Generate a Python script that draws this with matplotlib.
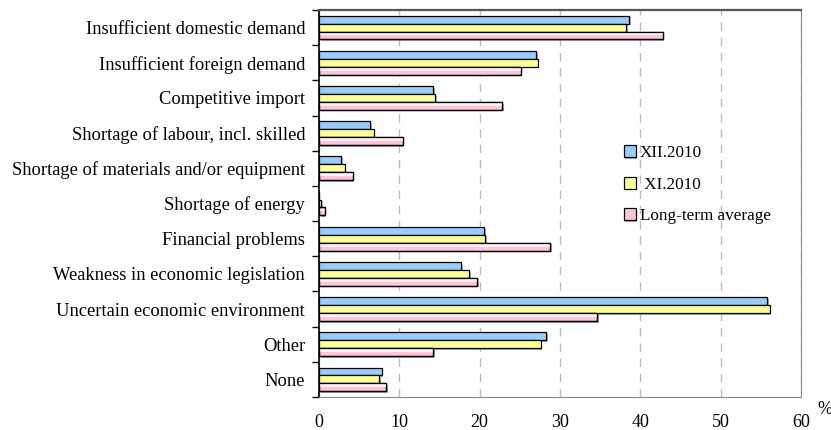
import matplotlib
matplotlib.use("Agg")
import matplotlib.pyplot as plt
import matplotlib.patheffects as pe
import numpy as np

categories = [
    "Insufficient domestic demand",
    "Insufficient foreign demand",
    "Competitive import",
    "Shortage of labour, incl. skilled",
    "Shortage of materials and/or equipment",
    "Shortage of energy",
    "Financial problems",
    "Weakness in economic legislation",
    "Uncertain economic environment",
    "Other",
    "None",
]
xii_2010 = [38.6, 27.0, 14.2, 6.4, 2.8, 0.0, 20.6, 17.7, 55.8, 28.3, 7.8]
xi_2010 = [38.2, 27.2, 14.5, 6.8, 3.2, 0.3, 20.7, 18.7, 56.1, 27.6, 7.5]
long_term = [42.8, 25.1, 22.8, 10.4, 4.2, 0.7, 28.8, 19.7, 34.6, 14.2, 8.4]
series_labels = ["XII.2010", " XI.2010", "Long-term average"]
x_ticks = [0, 10, 20, 30, 40, 50, 60]

plt.rcParams["font.family"] = ["Liberation Serif", "DejaVu Serif"]

fig = plt.figure(figsize=(8.31, 4.30), dpi=100)
ax = fig.add_axes([319 / 831, 33 / 430, 482 / 831, 387 / 430])

y = np.arange(len(categories))
h = 0.224
shadow = [pe.SimplePatchShadow(offset=(1.2, -1.2), shadow_rgbFace="#777777", alpha=0.6), pe.Normal()]

b1 = ax.barh(y - h, xii_2010, height=h, color="#99ccff", edgecolor="black", linewidth=0.9,
             label=series_labels[0], zorder=3)
b2 = ax.barh(y, xi_2010, height=h, color="#ffff99", edgecolor="black", linewidth=0.9,
             label=series_labels[1], zorder=3)
b3 = ax.barh(y + h, long_term, height=h, color="#ffc4da", edgecolor="black", linewidth=0.9,
             label=series_labels[2], zorder=3)
for bars in (b1, b2, b3):
    for p in bars:
        if p.get_width() > 0:
            p.set_path_effects(shadow)
# light upper band on the long-term bars
ax.barh(y + h - h * 0.18, long_term, height=h * 0.35, color="#fff0f5", linewidth=0, zorder=4)
for v, yy in zip(long_term, y + h):
    ax.barh(yy, v, height=h, fill=False, edgecolor="black", linewidth=0.9, zorder=5)

ax.set_xlim(0, 60)
ax.set_ylim(len(categories) - 0.5, -0.5)
ax.set_xticks(x_ticks)
ax.set_xticklabels([str(t) for t in x_ticks], fontsize=13)
ax.set_yticks(y)
ax.set_yticklabels(categories, fontsize=13.3)
ax.set_yticks(np.arange(-0.5, len(categories), 1.0), minor=True)
ax.tick_params(axis="y", which="major", length=0, pad=10)
ax.tick_params(axis="y", which="minor", length=5, width=1, color="black", direction="out")
ax.tick_params(axis="x", length=0, pad=12)

ax.xaxis.grid(True, linestyle=(0, (6, 5)), color="#bbbbbb", linewidth=1, zorder=0)
ax.set_axisbelow(True)

ax.spines["left"].set_color("black")
ax.spines["left"].set_linewidth(1.2)
ax.spines["top"].set_color("#555555")
ax.spines["top"].set_linewidth(1.6)
ax.spines["right"].set_color("#888888")
ax.spines["bottom"].set_color("#888888")

leg = ax.legend(handles=[b1, b2, b3], loc="upper left", bbox_to_anchor=(0.6, 0.69),
                frameon=False, fontsize=12.3, handlelength=0.7, handleheight=0.7,
                handletextpad=0.25, labelspacing=0.9)

fig.text(825 / 831, 1 - 410 / 430, "%", fontsize=13, ha="center", va="center")

fig.savefig("out.png", dpi=100)
